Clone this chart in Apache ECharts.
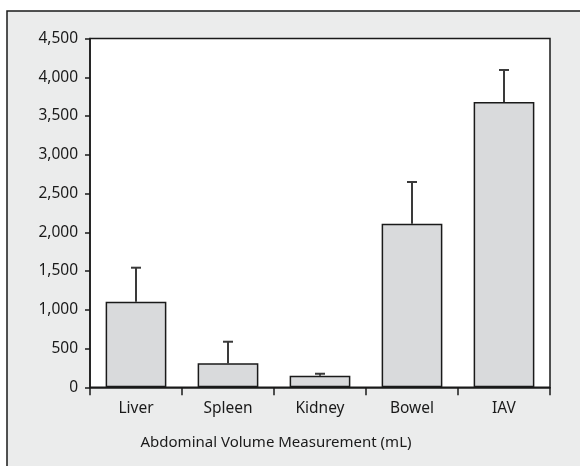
<!DOCTYPE html>
<html>
<head>
<meta charset="utf-8">
<script src="https://cdn.jsdelivr.net/npm/echarts@6/dist/echarts.min.js"></script>
<style>
  html, body { margin: 0; padding: 0; background: #fff; }
  #chart { width: 580px; height: 466px; }
</style>
</head>
<body>
<div id="chart"></div>
<script>
// categories and measured volumes (mL)
var categories = ['Liver', 'Spleen', 'Kidney', 'Bowel', 'IAV'];
var means = [1104, 310, 150, 2111, 3681];
var upperErr = [1543, 588, 175, 2649, 4094];
var yTicks = [0, 500, 1000, 1500, 2000, 2500, 3000, 3500, 4000, 4500];

var fontFam = 'Noto Sans';
var myChart = echarts.init(document.getElementById('chart'));

var errData = categories.map(function (c, i) {
  return [i, means[i], upperErr[i]];
});

var option = {
  animation: false,
  backgroundColor: '#fff',
  graphic: [
    { // outer grey panel, runs off the right/bottom edge
      type: 'rect', z: -10,
      shape: { x: 7, y: 11, width: 600, height: 480 },
      style: { fill: '#ebecec', stroke: '#1a1a1a', lineWidth: 1.5 }
    },
    {
      type: 'text', z: 10,
      x: 276, y: 443,
      style: {
        text: 'Abdominal Volume Measurement (mL)',
        fontFamily: fontFam, fontSize: 15, fill: '#1a1a1a',
        align: 'center', verticalAlign: 'middle'
      }
    }
  ],
  grid: {
    left: 90, top: 38.5, right: 30, bottom: 78.7,
    show: true, backgroundColor: '#fff',
    borderColor: '#1a1a1a', borderWidth: 1.5
  },
  xAxis: {
    type: 'category',
    data: categories,
    axisLine: { lineStyle: { color: '#1a1a1a', width: 1.5 } },
    axisTick: { show: true, length: 8, lineStyle: { color: '#1a1a1a', width: 1.5 } },
    axisLabel: { color: '#1a1a1a', fontFamily: fontFam, fontSize: 15.5, margin: 13 }
  },
  yAxis: {
    type: 'value',
    min: yTicks[0], max: yTicks[yTicks.length - 1], interval: 500,
    splitLine: { show: false },
    axisLine: { show: true, lineStyle: { color: '#1a1a1a', width: 1.5 } },
    axisTick: { show: true, length: 5, lineStyle: { color: '#1a1a1a', width: 1.5 } },
    axisLabel: {
      color: '#1a1a1a', fontFamily: fontFam, fontSize: 15.5, margin: 12,
      formatter: function (v) { return v.toLocaleString('en-US'); }
    }
  },
  series: [
    {
      type: 'bar',
      data: means,
      barWidth: '66%',
      itemStyle: { color: '#d9dadc', borderColor: '#1a1a1a', borderWidth: 1.5 }
    },
    {
      type: 'custom',
      data: errData,
      z: 1,
      renderItem: function (params, api) {
        var base = api.coord([api.value(0), api.value(1)]);
        var top = api.coord([api.value(0), api.value(2)]);
        var half = 5;
        var st = { stroke: '#3a3a3a', lineWidth: 2 };
        return {
          type: 'group',
          children: [
            { type: 'line', shape: { x1: base[0], y1: base[1], x2: top[0], y2: top[1] }, style: st },
            { type: 'line', shape: { x1: top[0] - half, y1: top[1], x2: top[0] + half, y2: top[1] }, style: st }
          ]
        };
      }
    }
  ]
};
myChart.setOption(option);
</script>
</body>
</html>
